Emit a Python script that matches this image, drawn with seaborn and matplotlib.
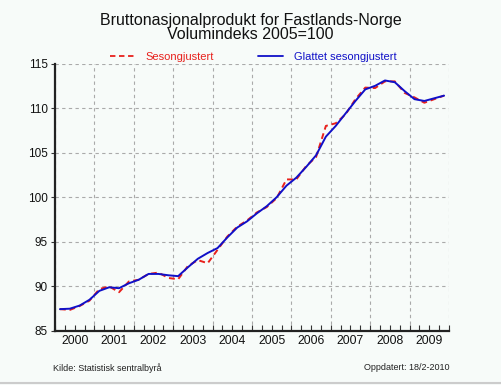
import matplotlib
matplotlib.use("Agg")
import matplotlib.pyplot as plt
import matplotlib.transforms as mtransforms
from matplotlib.lines import Line2D
import seaborn as sns
import pandas as pd
import numpy as np

years = list(range(2000, 2010))
quarters = [1, 2, 3, 4]

sesongjustert = [
    87.45, 87.36, 87.8, 88.4,
    89.7, 90.0, 89.35, 90.55,
    90.75, 91.4, 91.55, 90.95,
    90.8, 92.3, 92.95, 92.6,
    94.1, 95.6, 96.7, 97.4,
    98.3, 98.9, 99.9, 102.0,
    102.0, 103.5, 104.5, 108.0,
    108.3, 109.3, 111.0, 112.3,
    112.25, 113.0, 113.0, 111.7,
    111.2, 110.6, 111.0, 111.4,
]
glattet = [
    87.45, 87.5, 87.85, 88.5,
    89.5, 89.9, 89.8, 90.35,
    90.75, 91.4, 91.4, 91.25,
    91.15, 92.15, 93.1, 93.75,
    94.3, 95.5, 96.6, 97.3,
    98.2, 99.0, 100.0, 101.3,
    102.2, 103.4, 104.7, 106.8,
    108.0, 109.4, 110.8, 112.1,
    112.5, 113.1, 112.9, 111.9,
    111.0, 110.8, 111.1, 111.4,
]
series_names = ["Sesongjustert", "Glattet sesongjustert"]
year_labels = [str(y) for y in years]
y_ticks = [85, 90, 95, 100, 105, 110, 115]

t = [y + (q - 0.5) / 4 for y in years for q in quarters]
df = pd.DataFrame({
    "t": t * 2,
    "verdi": sesongjustert + glattet,
    "serie": [series_names[0]] * len(t) + [series_names[1]] * len(t),
})

sns.set_theme(style="white")
plt.rcParams["font.family"] = ["Liberation Sans", "DejaVu Sans"]

bg = "#F7FBF9"
red = "#E8201C"
blue = "#1010C8"

fig = plt.figure(figsize=(5.01, 3.85), dpi=100, facecolor=bg)
ax = fig.add_axes([0.1098, 0.1403, 0.7864, 0.6947])
ax.set_facecolor(bg)

sns.lineplot(data=df, x="t", y="verdi", hue="serie", style="serie",
             palette={series_names[0]: red, series_names[1]: blue},
             dashes={series_names[0]: (3, 2), series_names[1]: ""},
             linewidth=1.4, ax=ax, legend=False, zorder=3)

ax.set_xlim(2000, 2010)
ax.set_ylim(85, 115)
ax.set_xlabel("")
ax.set_ylabel("")

# y axis
ax.set_yticks(y_ticks)
ax.set_yticklabels([str(v) for v in y_ticks], fontsize=8.5, color="#111111")
ax.tick_params(axis="y", direction="out", length=3, width=0.8, color="#333333", pad=2, left=True)
ax.yaxis.grid(True, linestyle=(0, (3, 3)), color="#AAAAAA", linewidth=0.8)

# x axis: ticks at quarter boundaries, grid at year boundaries
ax.set_xticks(list(range(2000, 2011)))
ax.set_xticklabels([])
ax.set_xticks([y + q / 4 for y in years for q in range(1, 4)], minor=True)
ax.tick_params(axis="x", which="both", direction="in", length=4, width=0.8,
               color="#333333", bottom=True)
ax.xaxis.grid(True, which="major", linestyle=(0, (3, 3)), color="#AAAAAA", linewidth=0.8)

trans = mtransforms.blended_transform_factory(ax.transData, ax.transAxes)
for y, lab in zip(years, year_labels):
    ax.text(y + 0.5, -0.015, lab, transform=trans, ha="center", va="top",
            fontsize=8.8, color="#111111")

for side in ["top", "right"]:
    ax.spines[side].set_visible(False)
ax.spines["left"].set_color("#222222")
ax.spines["left"].set_linewidth(1.6)
ax.spines["bottom"].set_color("#222222")
ax.spines["bottom"].set_linewidth(1.6)

# title
fig.text(0.5, 0.967, "Bruttonasjonalprodukt for Fastlands-Norge\nVolumindeks 2005=100",
         ha="center", va="top", fontsize=11.5, linespacing=0.95, color="#111111")

# legend
handles = [Line2D([0], [0], color=red, lw=1.3, linestyle=(0, (3, 2))),
           Line2D([0], [0], color=blue, lw=1.3)]
leg = fig.legend(handles, series_names, loc="center", bbox_to_anchor=(0.505, 0.852),
                 ncol=2, frameon=False, fontsize=8, handlelength=2.2,
                 columnspacing=4.0, handletextpad=1.0)
for txt, c in zip(leg.get_texts(), [red, blue]):
    txt.set_color(c)

fig.text(53 / 501, 1 - 368 / 385, "Kilde: Statistisk sentralbyrå", ha="left",
         va="center", fontsize=6.5, color="#222222")
fig.text(449 / 501, 1 - 368 / 385, "Oppdatert: 18/2-2010", ha="right",
         va="center", fontsize=6.5, color="#222222")

fig.add_artist(Line2D([0, 1], [1 - 383 / 385, 1 - 383 / 385], transform=fig.transFigure,
                      color="#CCCCCC", lw=1.5))

fig.savefig("out.png", dpi=100, facecolor=bg)
